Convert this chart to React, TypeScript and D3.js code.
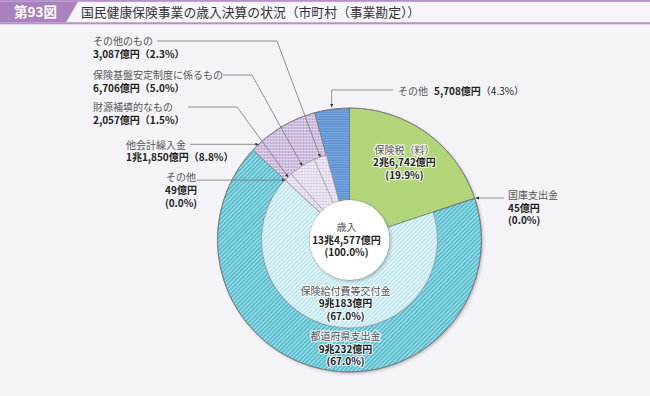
import React, { useEffect } from 'react';
import * as d3 from 'd3';

const W = 650;
const H = 396;

// 歳入の内訳（億円）
const mainNames = ['保険税（料）', '国庫支出金', '都道府県支出金', '他会計繰入金', 'その他'];
const mainValues = [26742, 45, 90232, 11850, 5708];
const mainPct = ['19.9', '0.0', '67.0', '8.8', '4.3'];

// 内側リングの内訳（親は mainNames の index）
const subParent = [2, 2, 3, 3, 3];
const subNames = ['保険給付費等交付金', 'その他', '財源補填的なもの', '保険基盤安定制度に係るもの', 'その他のもの'];
const subValues = [90183, 49, 2057, 6706, 3087];
const subPct = ['67.0', '0.0', '1.5', '5.0', '2.3'];

const totalName = '歳入';
const totalPct = '100.0';

const FONT = '"Noto Sans CJK JP", "Noto Sans", sans-serif';
const cx = 349.5;
const cy = 240;
const rOuter = 132;
const rMid = 88;
const rHole = 40;

const mainFill = ['#b3d57a', 'url(#hatchCyan)', 'url(#hatchCyan)', 'url(#checkPurple)', 'url(#stripeBlue)'];
const subFill = ['url(#hatchCyanLight)', 'url(#hatchCyanLight)', 'url(#checkLight)', 'url(#checkLight)', 'url(#checkLight)'];

function oku(v: number) {
  const cho = Math.floor(v / 10000);
  const rest = v % 10000;
  return cho > 0 ? `${cho}兆${d3.format(',')(rest)}億円` : `${d3.format(',')(v)}億円`;
}

function pt(angle: number, r: number): [number, number] {
  return [cx + r * Math.sin(angle), cy - r * Math.cos(angle)];
}

const nameStyle = { fill: '#555', fontWeight: 400 } as const;
const valStyle = { fill: '#222', fontWeight: 700 } as const;
const halo = { stroke: '#fff', strokeWidth: 2.2, strokeOpacity: 0.85, paintOrder: 'stroke' as const, strokeLinejoin: 'round' as const };

// 複数行ラベル（1つの text に tspan で行を積む）
const Label = ({ x, y, lines, anchor = 'start', glow = false, lh = 12.5 }: {
  x: number; y: number; lines: [string, any][]; anchor?: string; glow?: boolean; lh?: number;
}) => (
  <text x={x} y={y} textAnchor={anchor as any} fontFamily={FONT} fontSize={10} style={glow ? halo : undefined}>
    {lines.map(([t, s], i) => (
      <tspan key={i} x={x} dy={i === 0 ? 0 : lh} style={s}>{t}</tspan>
    ))}
  </text>
);

const App = () => {
  useEffect(() => {
    document.body.style.margin = '0';
    document.body.style.background = '#f4f4f8';
  }, []);

  const total = d3.sum(mainValues);
  const pie = d3.pie<number>().sort(null).value(d => d);
  const outerArcs = pie(mainValues);

  // 内側: 内訳のない項目は親をそのまま使う
  type Item = { kind: 'main' | 'sub'; idx: number; value: number };
  const innerItems: Item[] = [];
  mainValues.forEach((v, i) => {
    const kids = subParent.map((p, j) => (p === i ? j : -1)).filter(j => j >= 0);
    if (kids.length) kids.forEach(j => innerItems.push({ kind: 'sub', idx: j, value: subValues[j] }));
    else innerItems.push({ kind: 'main', idx: i, value: v });
  });
  const innerArcs = d3.pie<Item>().sort(null).value(d => d.value)(innerItems);
  const subArc = (j: number) => innerArcs.find(a => a.data.kind === 'sub' && a.data.idx === j)!;

  const arcGen = d3.arc<d3.PieArcDatum<any>>();
  const hasKids = (i: number) => subParent.includes(i);
  const mid = (a: { startAngle: number; endAngle: number }) => (a.startAngle + a.endAngle) / 2;

  // leader anchors
  const aSonotaMono = pt(mid(subArc(4)), rMid);
  const aKiban = pt(mid(subArc(3)), rMid);
  const aZaigen = pt(mid(subArc(2)), rMid);
  const aTakaikei = pt(outerArcs[3].startAngle + 0.06, rOuter);
  const aSonota49 = pt(subArc(1).startAngle, rMid);
  const aSonota = pt(mid(outerArcs[4]), rOuter + 2);
  const aKokko = pt(mid(outerArcs[1]), rOuter + 1);
  const lineProps = { fill: 'none', stroke: '#777', strokeWidth: 0.8, markerEnd: 'url(#arrow)' };

  const kyo = pt(mid(outerArcs[0]), 94);

  return (
    <svg width={W} height={H} viewBox={`0 0 ${W} ${H}`} style={{ display: 'block', background: '#f4f4f8' }}>
      <defs>
        <pattern id="hatchCyan" patternUnits="userSpaceOnUse" width={3} height={3} patternTransform="rotate(45)">
          <rect width={3} height={3} fill="#58bed0" />
          <line x1={0.5} y1={0} x2={0.5} y2={3} stroke="#aee2ea" strokeWidth={1} />
        </pattern>
        <pattern id="hatchCyanLight" patternUnits="userSpaceOnUse" width={3} height={3} patternTransform="rotate(45)">
          <rect width={3} height={3} fill="#bfe7ef" />
          <line x1={0.5} y1={0} x2={0.5} y2={3} stroke="#eef9fb" strokeWidth={1.1} />
        </pattern>
        <pattern id="checkPurple" patternUnits="userSpaceOnUse" width={3} height={3}>
          <rect width={3} height={3} fill="#bea9d3" />
          <line x1={0} y1={0.5} x2={3} y2={0.5} stroke="#e0d6ea" strokeWidth={0.9} />
          <line x1={0.5} y1={0} x2={0.5} y2={3} stroke="#e0d6ea" strokeWidth={0.9} />
        </pattern>
        <pattern id="checkLight" patternUnits="userSpaceOnUse" width={3} height={3}>
          <rect width={3} height={3} fill="#f1ecf5" />
          <line x1={0} y1={0.5} x2={3} y2={0.5} stroke="#d8cce2" strokeWidth={0.8} />
          <line x1={0.5} y1={0} x2={0.5} y2={3} stroke="#d8cce2" strokeWidth={0.8} />
        </pattern>
        <pattern id="stripeBlue" patternUnits="userSpaceOnUse" width={3} height={2.4}>
          <rect width={3} height={2.4} fill="#5a90d2" />
          <line x1={0} y1={0.6} x2={3} y2={0.6} stroke="#86afe2" strokeWidth={0.9} />
        </pattern>
        <marker id="arrow" viewBox="0 0 6 6" refX={5.5} refY={3} markerWidth={4.5} markerHeight={4.5} orient="auto">
          <path d="M0,0.5 L6,3 L0,5.5 z" fill="#333" />
        </marker>
        <filter id="shadow" x="-20%" y="-20%" width="140%" height="140%">
          <feDropShadow dx={1.5} dy={1.5} stdDeviation={1.5} floodColor="#000" floodOpacity={0.25} />
        </filter>
      </defs>

      {/* header */}
      <rect x={0} y={0} width={W} height={24} fill="#f6f5fa" />
      <rect x={0} y={0} width={W} height={1.8} fill="#b78fc9" />
      <rect x={0} y={22.3} width={W} height={2} fill="#b78fc9" />
      <path d="M0,1.8 H78 L66,22.3 H0 Z" fill="#a982bd" />
      <text x={14} y={17} fill="#fff" fontFamily={FONT} fontSize={13.5} fontWeight={700}>第93図</text>
      <text x={81} y={17} fill="#333" fontFamily={FONT} fontSize={12.8}>
        国民健康保険事業の歳入決算の状況（市町村（事業勘定））
      </text>

      {/* rings */}
      <g transform={`translate(${cx},${cy})`}>
        <g filter="url(#shadow)">
          <circle r={rOuter} fill="#ccc" />
        </g>
        {outerArcs.map((a, i) => (
          <path
            key={`o${i}`}
            d={arcGen({ ...a, innerRadius: hasKids(i) ? rMid : rHole, outerRadius: rOuter } as any)!}
            fill={mainFill[i]}
            stroke="#6f6f6f"
            strokeWidth={0.6}
          />
        ))}
        {innerArcs
          .filter(a => a.data.kind === 'sub')
          .map((a, k) => (
            <path
              key={`i${k}`}
              d={arcGen({ ...a, innerRadius: rHole, outerRadius: rMid } as any)!}
              fill={subFill[a.data.idx]}
              stroke="#8a8a8a"
              strokeWidth={0.5}
            />
          ))}
        <circle r={rOuter} fill="none" stroke="#777" strokeWidth={0.8} />
        <g filter="url(#shadow)">
          <circle r={rHole} fill="#fff" />
        </g>
      </g>

      {/* leader lines */}
      <path d={`M157,41 H277 L${aSonotaMono[0]},${aSonotaMono[1]}`} {...lineProps} />
      <path d={`M223,75 H252 L${aKiban[0]},${aKiban[1]}`} {...lineProps} />
      <path d={`M188,107 H237 L${aZaigen[0]},${aZaigen[1]}`} {...lineProps} />
      <path d={`M190,${aTakaikei[1]} H${aTakaikei[0]}`} {...lineProps} />
      <path d={`M197,${aSonota49[1]} H${aSonota49[0]}`} {...lineProps} />
      <path d={`M393,90 H${aSonota[0]} V${aSonota[1]}`} {...lineProps} />
      <path d={`M504,${aKokko[1]} H${aKokko[0]}`} {...lineProps} />

      {/* left labels */}
      <Label x={93} y={45} lines={[[subNames[4], nameStyle], [`${oku(subValues[4])}（${subPct[4]}%）`, valStyle]]} />
      <Label x={93} y={79} lines={[[subNames[3], nameStyle], [`${oku(subValues[3])}（${subPct[3]}%）`, valStyle]]} />
      <Label x={93} y={111} lines={[[subNames[2], nameStyle], [`${oku(subValues[2])}（${subPct[2]}%）`, valStyle]]} />
      <Label x={126} y={148.5} lines={[[mainNames[3], nameStyle], [`${oku(mainValues[3])}（${mainPct[3]}%）`, valStyle]]} />
      <Label x={181} y={181} anchor="middle" lh={13} lines={[[subNames[1], nameStyle], [oku(subValues[1]), valStyle], [`(${subPct[1]}%)`, valStyle]]} />

      {/* right labels */}
      <text x={398} y={94.5} fontFamily={FONT} fontSize={10} style={nameStyle}>
        {mainNames[4]}
        <tspan dx={6} style={valStyle}>{oku(mainValues[4])}</tspan>
        <tspan style={{ fill: '#222' }}>（{mainPct[4]}%）</tspan>
      </text>
      <Label x={508} y={199} lines={[[mainNames[1], nameStyle], [oku(mainValues[1]), valStyle], [`(${mainPct[1]}%)`, valStyle]]} />

      {/* inner labels */}
      <Label x={kyo[0]} y={kyo[1] - 10} anchor="middle" glow lines={[[mainNames[0], nameStyle], [oku(mainValues[0]), valStyle], [`(${mainPct[0]}%)`, valStyle]]} />
      <Label x={cx - 3} y={cy - 9} anchor="middle" lines={[[totalName, nameStyle], [oku(total), valStyle], [`(${totalPct}%)`, valStyle]]} />
      <Label x={cx - 4} y={cy + 54.5} anchor="middle" glow lines={[[subNames[0], nameStyle], [oku(subValues[0]), valStyle], [`(${subPct[0]}%)`, valStyle]]} />
      <Label x={cx - 4} y={cy + 100} anchor="middle" glow lines={[[mainNames[2], nameStyle], [oku(mainValues[2]), valStyle], [`(${mainPct[2]}%)`, valStyle]]} />
    </svg>
  );
};

export default App;
